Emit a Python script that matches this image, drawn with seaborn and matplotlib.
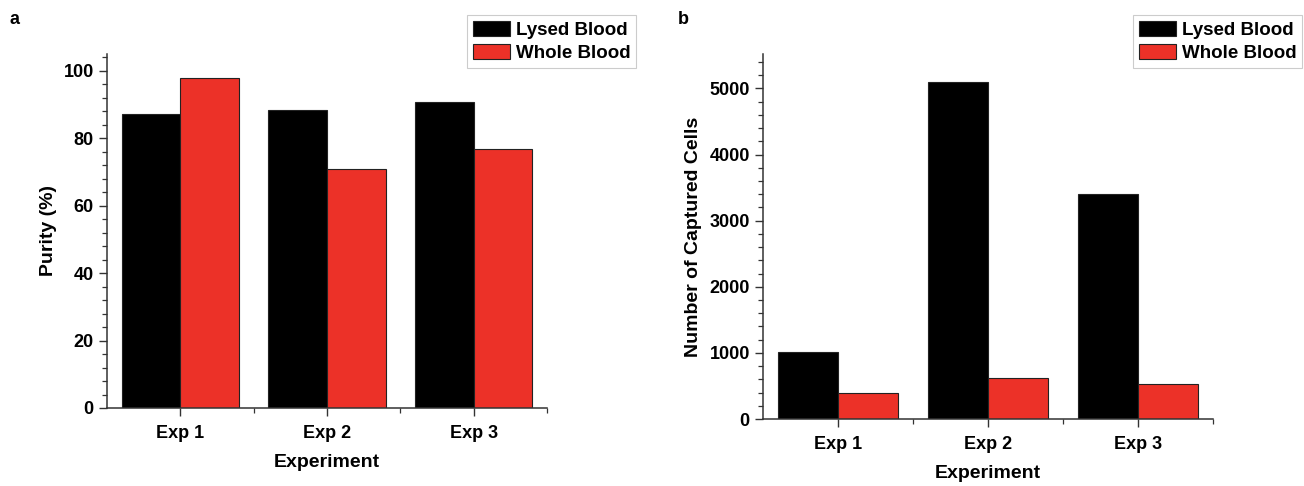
import pandas as pd
import matplotlib
matplotlib.use('Agg')
import matplotlib.pyplot as plt
from matplotlib.ticker import AutoMinorLocator, FixedLocator
import seaborn as sns

experiments = ['Exp 1', 'Exp 2', 'Exp 3']
groups = ['Lysed Blood', 'Whole Blood']
purity_lysed = [87.1, 88.5, 90.7]
purity_whole = [97.8, 71.0, 76.8]
cells_lysed = [1016, 5100, 3400]
cells_whole = [387, 624, 528]

red = '#EC3128'
palette = {'Lysed Blood': 'black', 'Whole Blood': red}

purity = pd.DataFrame({
    'Experiment': experiments * 2,
    'Group': [groups[0]] * 3 + [groups[1]] * 3,
    'Value': purity_lysed + purity_whole,
})
cells = pd.DataFrame({
    'Experiment': experiments * 2,
    'Group': [groups[0]] * 3 + [groups[1]] * 3,
    'Value': cells_lysed + cells_whole,
})

sns.set_style('ticks')
plt.rcParams['font.family'] = ['Liberation Sans Narrow', 'Liberation Sans', 'DejaVu Sans']
plt.rcParams['font.weight'] = 'bold'
plt.rcParams['axes.labelweight'] = 'bold'
plt.rcParams['text.color'] = 'black'
plt.rcParams['axes.labelcolor'] = 'black'
plt.rcParams['xtick.labelcolor'] = 'black'
plt.rcParams['ytick.labelcolor'] = 'black'

W, H = 1304, 486
fig = plt.figure(figsize=(W / 100, H / 100), dpi=100)

# axes boxes in pixels: left, right, bottom, top
boxes = [(107, 547, 408, 54), (763, 1213, 419, 54)]
axes = []
for l, r, b, t in boxes:
    axes.append(fig.add_axes([l / W, 1 - b / H, (r - l) / W, (b - t) / H]))


def style(ax, df, ylabel, ylim, major):
    sns.barplot(ax=ax, data=df, x='Experiment', y='Value', hue='Group',
                palette=palette, width=0.8, edgecolor='#222222', linewidth=0.8,
                saturation=1, legend=False)
    ax.set_xlim(-0.5, 2.5)
    ax.set_ylim(*ylim)
    ax.set_yticks(range(0, int(ylim[1]) + 1, major))
    ax.yaxis.set_minor_locator(AutoMinorLocator(5))
    ax.xaxis.set_minor_locator(FixedLocator([0.5, 1.5, 2.5]))
    ax.set_xlabel('Experiment', fontsize=14, fontweight='bold', labelpad=9)
    ax.set_ylabel(ylabel, fontsize=14, fontweight='bold', labelpad=5)
    ax.tick_params(axis='both', which='major', direction='out', length=6, width=1,
                   labelsize=13, color='#333333')
    ax.tick_params(axis='both', which='minor', direction='out', length=3.5, width=0.9,
                   color='#333333')
    ax.tick_params(axis='x', which='major', pad=6)
    for lab in ax.get_xticklabels() + ax.get_yticklabels():
        lab.set_fontweight('bold')
    for s in ['top', 'right']:
        ax.spines[s].set_visible(False)
    for s in ['left', 'bottom']:
        ax.spines[s].set_linewidth(1.1)
        ax.spines[s].set_color('#333333')


style(axes[0], purity, 'Purity (%)', (0, 105), 20)
style(axes[1], cells, 'Number of Captured Cells', (0, 5520), 1000)

for ax, (lx, ly) in zip(axes, [(467, 15), (1133, 15)]):
    handles = [plt.Rectangle((0, 0), 1, 1, facecolor=palette[g], edgecolor='#222222',
                             linewidth=0.8) for g in groups]
    leg = ax.legend(handles, groups, loc='upper left',
                    bbox_to_anchor=(lx / W, 1 - ly / H), bbox_transform=fig.transFigure,
                    borderaxespad=0, frameon=True, fancybox=False, edgecolor='#cccccc',
                    framealpha=1, prop={'size': 13.5, 'weight': 'bold'},
                    handlelength=2.0, handleheight=0.85, handletextpad=0.3,
                    labelspacing=0.3, borderpad=0.3)
    leg.get_frame().set_linewidth(0.8)

fig.text(15 / W, 1 - 20 / H, 'a', fontsize=13, fontweight='bold', va='center', ha='center')
fig.text(683 / W, 1 - 20 / H, 'b', fontsize=13, fontweight='bold', va='center', ha='center')

fig.savefig('out.png', dpi=100)
